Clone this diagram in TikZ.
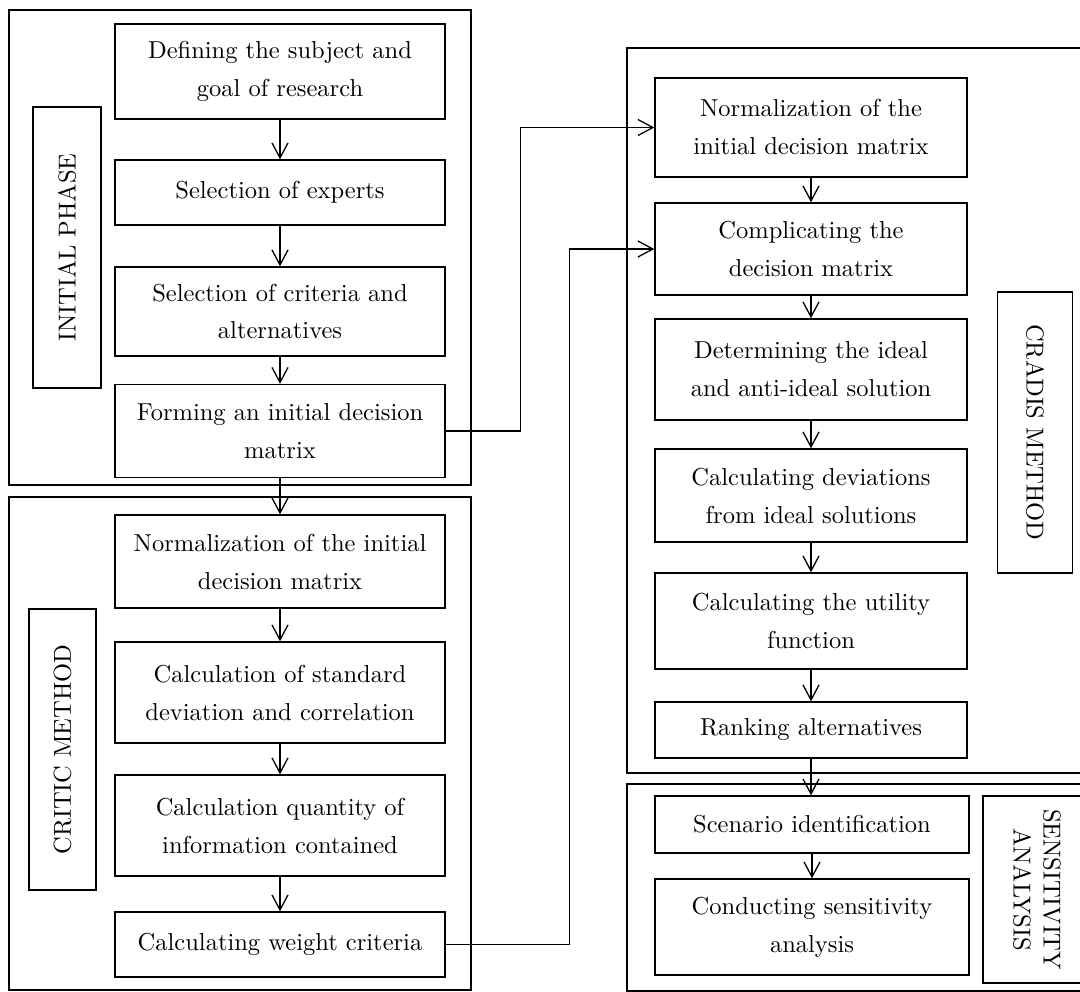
\documentclass[tikz,border=0pt]{standalone}
\usepackage{fontspec}
\setmainfont{lmroman10-regular.otf}
\usetikzlibrary{arrows.meta}
\begin{document}
\begin{tikzpicture}[x=1pt,y=-1pt,
  lw/.style={line width=1.4pt},
  bodyfont/.style={font=\fontsize{24.5}{38}\selectfont},
  stepbox/.style={draw,lw,bodyfont,inner sep=1pt,align=center,minimum width=330pt},
  rstepbox/.style={stepbox,minimum width=312pt},
  frame/.style={draw,lw,inner sep=0pt,minimum width=#1},
  labbox/.style={draw,lw,bodyfont,inner sep=0pt,align=center},
  arr/.style={lw,-{Straight Barb[length=15pt,width=16pt,line width=1.3pt]}}
]
\useasboundingbox (0,0) rectangle (1080,992);

% outer frames
\node[frame=462pt,minimum height=475pt] (fA) at (240,247.5) {};
\node[frame=462pt,minimum height=493pt] (fB) at (240,743.5) {};
\node[frame=480pt,minimum height=725pt] (fC) at (867,410.5) {};
\node[frame=480pt,minimum height=207pt] (fD) at (867,887.5) {};

% phase labels
\node[labbox,rotate=90,minimum width=281pt,minimum height=68pt] (lA) at (67,247.5) {INITIAL PHASE};
\node[labbox,rotate=90,minimum width=281pt,minimum height=67pt] (lB) at (62.5,749.5) {CRITIC METHOD};
\node[labbox,rotate=-90,minimum width=281pt,minimum height=75pt] (lC) at (1035,432.5) {CRADIS METHOD};
\node[labbox,rotate=-90,minimum width=187pt,minimum height=108pt,font=\fontsize{24.5}{30}\selectfont] (lD) at (1037,889.5) {SENSITIVITY\\ANALYSIS};

% left column
\node[stepbox,minimum height=95pt] (def) at (280,71.5) {Defining the subject and\\goal of research};
\node[stepbox,minimum height=65pt] (exp) at (280,192.5) {Selection of experts};
\node[stepbox,minimum height=89pt] (crit) at (280,311.5) {Selection of criteria and\\alternatives};
\node[stepbox,minimum height=93pt] (form) at (280,431) {Forming an initial decision\\matrix};
\node[stepbox,minimum height=93pt] (lnorm) at (280,561.5) {Normalization of the initial\\decision matrix};
\node[stepbox,minimum height=101pt] (std) at (280,692.5) {Calculation of standard\\deviation and correlation};
\node[stepbox,minimum height=101pt] (qty) at (280,825.5) {Calculation quantity of\\information contained};
\node[stepbox,minimum height=65pt] (wgt) at (280,944.5) {Calculating weight criteria};

% right column
\node[rstepbox,minimum height=99pt] (rnorm) at (811,127.5) {Normalization of the\\initial decision matrix};
\node[rstepbox,minimum height=92pt] (comp) at (811,249) {Complicating the\\decision matrix};
\node[rstepbox,minimum height=101pt] (ideal) at (811,369.5) {Determining the ideal\\and anti-ideal solution};
\node[rstepbox,minimum height=93pt] (dev) at (811,495.5) {Calculating deviations\\from ideal solutions};
\node[rstepbox,minimum height=96pt] (util) at (811,621) {Calculating the utility\\function};
\node[rstepbox,minimum height=56pt] (rank) at (811,730) {Ranking alternatives};
\node[rstepbox,minimum width=314pt,minimum height=57pt] (scen) at (812,824.5) {Scenario identification};
\node[rstepbox,minimum width=314pt,minimum height=96pt] (cond) at (812,927) {Conducting sensitivity\\analysis};

% vertical connectors
\draw[arr] (def) -- (exp);
\draw[arr] (exp) -- (crit);
\draw[arr] (crit) -- (form);
\draw[arr] (form) -- (lnorm);
\draw[arr] (lnorm) -- (std);
\draw[arr] (std) -- (qty);
\draw[arr] (qty) -- (wgt);
\draw[arr] (rnorm) -- (comp);
\draw[arr] (comp) -- (ideal);
\draw[arr] (ideal) -- (dev);
\draw[arr] (dev) -- (util);
\draw[arr] (util) -- (rank);
\draw[arr] (rank.south) -- (rank.south |- scen.north);
\draw[arr] (scen) -- (cond);

% cross connectors
\draw[arr] (form.east) -- ([xshift=75pt]form.east) |- (rnorm.west);
\draw[arr] (wgt.east) -- ([xshift=124pt]wgt.east) |- (comp.west);
\end{tikzpicture}
\end{document}
